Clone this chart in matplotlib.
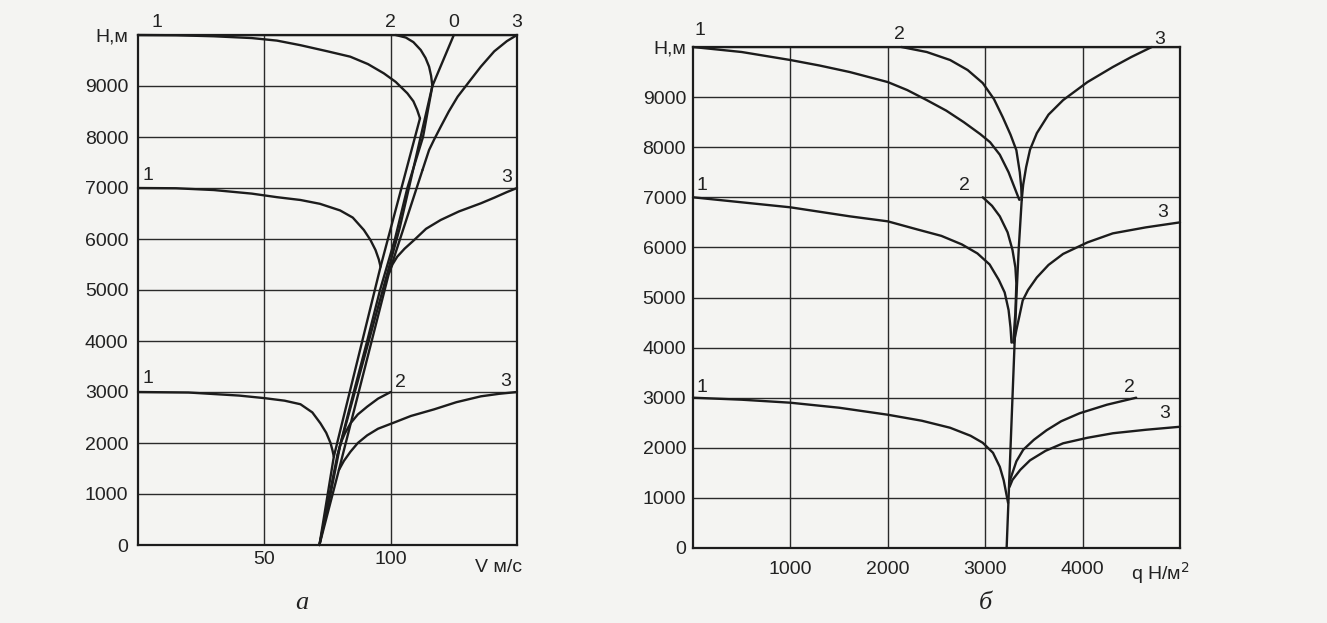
import matplotlib
matplotlib.use("Agg")
import matplotlib.pyplot as plt

# ---------------- data: chart (а)  H vs V ----------------
v_line0 = [71.8, 76.2, 80.2, 85.4, 90.7, 95.8, 101.7, 106.6, 112.8, 116.5, 125]
h_line0 = [0, 1000, 2000, 3000, 4000, 5000, 6000, 7000, 8000, 9000, 10000]

# top group (H max 10000)
v_a_top1 = [0, 15, 30, 45, 55, 64.3, 75, 84, 91, 97.3, 102, 106.6, 109, 110.5, 111.6]
h_a_top1 = [10000, 9995, 9975, 9940, 9890, 9800, 9680, 9575, 9430, 9248, 9080, 8857, 8700, 8530, 8366]
v_a_top2 = [102, 106, 109, 111.9, 113.8, 115.2, 116, 116.5]
h_a_top2 = [10000, 9950, 9860, 9706, 9550, 9380, 9200, 9000]
v_a_top3 = [150, 146, 141, 135.7, 131, 126.5, 123, 119.8, 117.3, 115.2, 112.6]
h_a_top3 = [10000, 9880, 9680, 9380, 9080, 8790, 8500, 8200, 7960, 7745, 7353]
# middle group (H max 7000)
v_a_mid1 = [0, 15, 30, 45, 55, 64.3, 72, 80, 85, 89.4, 92, 94, 95.3, 96]
h_a_mid1 = [7000, 6995, 6960, 6890, 6820, 6765, 6690, 6560, 6420, 6176, 5980, 5784, 5600, 5457]
v_a_mid3 = [150, 146, 141, 135.7, 127, 119.8, 114, 109.3, 105.5, 102.6, 100.7, 99.3]
h_a_mid3 = [7000, 6920, 6810, 6700, 6540, 6373, 6200, 5980, 5810, 5653, 5500, 5327]
# bottom group (H max 3000)
v_a_bot1 = [0, 20, 40, 50, 58, 64.3, 69, 72.2, 74.5, 76.2, 77, 77.5]
h_a_bot1 = [3000, 2990, 2930, 2880, 2830, 2760, 2600, 2386, 2200, 2000, 1850, 1732]
v_a_bot2 = [100, 95, 90.7, 87, 84.1, 81.8, 80.2, 78.8]
h_a_bot2 = [3000, 2870, 2712, 2560, 2386, 2180, 1993, 1732]
v_a_bot3 = [150, 143, 135.7, 126, 117.2, 108, 101.3, 95, 90.7, 87, 84.1, 81.5, 79.5]
h_a_bot3 = [3000, 2965, 2915, 2800, 2660, 2530, 2400, 2280, 2150, 2000, 1830, 1650, 1470]
# connecting lines through the cusps down to the bundle origin
v_a_link1 = [111.6, 96, 77.5, 71.8]
h_a_link1 = [8366, 5457, 1732, 0]
v_a_link2 = [116.5, 103.5, 78.8, 71.8]
h_a_link2 = [9000, 6200, 1732, 0]
v_a_link3 = [112.6, 99.3, 79.5, 71.8]
h_a_link3 = [7353, 5327, 1470, 0]

# ---------------- data: chart (б)  H vs q ----------------
q_line0 = [3220, 3240, 3260, 3280, 3300, 3320, 3345, 3375]
h_line0b = [0, 1000, 2000, 3000, 4000, 5000, 6000, 6950]

q_b_top1 = [0, 500, 1000, 1300, 1610, 2000, 2200, 2400, 2600, 2780, 2950, 3050, 3150, 3240, 3310, 3350]
h_b_top1 = [10000, 9900, 9740, 9630, 9500, 9300, 9140, 8940, 8730, 8500, 8260, 8100, 7850, 7500, 7150, 6950]
q_b_top2 = [2140, 2400, 2640, 2820, 2975, 3090, 3180, 3260, 3320, 3355, 3370, 3375]
h_b_top2 = [10000, 9900, 9740, 9540, 9280, 8960, 8600, 8250, 7940, 7500, 7200, 6950]
q_b_top3 = [4710, 4500, 4310, 4050, 3800, 3650, 3530, 3460, 3420, 3390, 3375]
h_b_top3 = [10000, 9800, 9600, 9300, 8940, 8650, 8280, 7950, 7600, 7250, 6950]

q_b_mid1 = [0, 500, 1000, 1610, 2000, 2300, 2550, 2760, 2920, 3045, 3140, 3200, 3240, 3260, 3270]
h_b_mid1 = [7000, 6900, 6800, 6620, 6520, 6360, 6230, 6060, 5880, 5660, 5350, 5100, 4750, 4400, 4100]
q_b_mid2 = [2975, 3070, 3150, 3230, 3280, 3310, 3320, 3310, 3288]
h_b_mid2 = [7000, 6830, 6620, 6300, 5950, 5600, 5280, 4700, 4100]
q_b_mid3 = [5000, 4650, 4310, 4050, 3800, 3650, 3530, 3440, 3385, 3350, 3320, 3295]
h_b_mid3 = [6500, 6400, 6280, 6100, 5870, 5650, 5400, 5150, 4940, 4620, 4350, 4100]

q_b_bot1 = [0, 500, 1000, 1500, 2000, 2350, 2640, 2850, 2975, 3080, 3150, 3190, 3215, 3235]
h_b_bot1 = [3000, 2960, 2900, 2800, 2660, 2540, 2400, 2240, 2100, 1900, 1620, 1350, 1100, 900]
q_b_bot2 = [4550, 4250, 3970, 3780, 3630, 3500, 3390, 3320, 3280, 3245]
h_b_bot2 = [3000, 2860, 2690, 2530, 2350, 2160, 1960, 1730, 1500, 1300]
q_b_bot3 = [5000, 4650, 4310, 4050, 3800, 3620, 3460, 3360, 3280, 3250]
h_b_bot3 = [2420, 2360, 2290, 2200, 2090, 1940, 1750, 1560, 1360, 1220]

h_ticks = [0, 1000, 2000, 3000, 4000, 5000, 6000, 7000, 8000, 9000, 10000]
h_ticklabels = ["0", "1000", "2000", "3000", "4000", "5000", "6000",
                "7000", "8000", "9000", "Н,м"]
v_ticks = [50, 100, 150]
v_ticklabels = ["50", "100", ""]
q_ticks = [1000, 2000, 3000, 4000, 5000]
q_ticklabels = ["1000", "2000", "3000", "4000", ""]

# curve number labels (x, y, text)
labels_a = [(7.5, 10240, "1"), (100, 10240, "2"), (125, 10240, "0"), (150, 10240, "3"),
            (4, 7250, "1"), (146, 7200, "3"),
            (4, 3270, "1"), (104, 3180, "2"), (145.6, 3200, "3")]
labels_b = [(70, 10330, "1"), (2120, 10240, "2"), (4790, 10140, "3"),
            (90, 7245, "1"), (2790, 7245, "2"), (4820, 6690, "3"),
            (90, 3210, "1"), (4480, 3210, "2"), (4840, 2690, "3")]

# ---------------- drawing ----------------
BG = "#f4f4f2"
INK = "#1c1c1c"
plt.rcParams["font.family"] = ["Liberation Sans", "DejaVu Sans"]

fig = plt.figure(figsize=(13.27, 6.23), dpi=100, facecolor=BG)
W, Hh = 1327, 623
ax1 = fig.add_axes([138 / W, 1 - 545 / Hh, 379 / W, 510 / Hh])
ax2 = fig.add_axes([693 / W, 1 - 548 / Hh, 487 / W, 501 / Hh])

for ax in (ax1, ax2):
    ax.set_facecolor(BG)
    ax.set_ylim(0, 10000)
    ax.set_yticks(h_ticks)
    ax.set_yticklabels(h_ticklabels)
    ax.grid(True, color="#2a2a2a", linewidth=1.0)
    ax.set_axisbelow(True)
    for s in ax.spines.values():
        s.set_color(INK)
        s.set_linewidth(1.6)
    ax.tick_params(length=0, labelsize=14, colors="#222222")

ax1.set_xlim(0, 150)
ax1.set_xticks(v_ticks)
ax1.set_xticklabels(v_ticklabels)
ax1.tick_params(axis="y", pad=7)
ax1.tick_params(axis="x", pad=4)

ax2.set_xlim(0, 5000)
ax2.set_xticks(q_ticks)
ax2.set_xticklabels(q_ticklabels)
ax2.tick_params(axis="y", pad=5)
ax2.tick_params(axis="x", pad=9)

kw = dict(color=INK, linewidth=1.7, solid_capstyle="round", solid_joinstyle="round", clip_on=False)
for xs, ys in [(v_line0, h_line0), (v_a_top1, h_a_top1), (v_a_top2, h_a_top2),
               (v_a_top3, h_a_top3), (v_a_mid1, h_a_mid1), (v_a_mid3, h_a_mid3),
               (v_a_bot1, h_a_bot1), (v_a_bot2, h_a_bot2), (v_a_bot3, h_a_bot3),
               (v_a_link1, h_a_link1), (v_a_link2, h_a_link2), (v_a_link3, h_a_link3)]:
    ax1.plot(xs, ys, **kw)

for xs, ys in [(q_line0, h_line0b), (q_b_top1, h_b_top1), (q_b_top2, h_b_top2),
               (q_b_top3, h_b_top3), (q_b_mid1, h_b_mid1), (q_b_mid2, h_b_mid2),
               (q_b_mid3, h_b_mid3), (q_b_bot1, h_b_bot1), (q_b_bot2, h_b_bot2),
               (q_b_bot3, h_b_bot3)]:
    ax2.plot(xs, ys, **kw)

for x, y, t in labels_a:
    ax1.text(x, y, t, fontsize=14, color="#222222", ha="center", va="center", clip_on=False)
for x, y, t in labels_b:
    ax2.text(x, y, t, fontsize=14, color="#222222", ha="center", va="center", clip_on=False)

ax1.text(0.95, -0.045, "V м/с", transform=ax1.transAxes, fontsize=14,
         color="#222222", ha="center", va="center")
ax2.text(0.96, -0.05, "q Н/м$^2$", transform=ax2.transAxes, fontsize=14,
         color="#222222", ha="center", va="center")

fig.text(302 / W, 1 - 603 / Hh, "а", fontsize=19, style="italic",
         family=["Liberation Serif", "DejaVu Serif"], ha="center", va="center", color="#222222")
fig.text(985 / W, 1 - 603 / Hh, "б", fontsize=19, style="italic",
         family=["Liberation Serif", "DejaVu Serif"], ha="center", va="center", color="#222222")

fig.savefig("out.png", dpi=100, facecolor=BG)
